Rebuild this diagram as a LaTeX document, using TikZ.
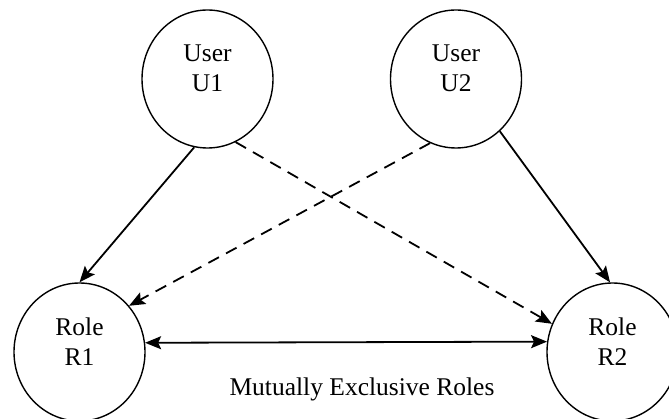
\documentclass[tikz,border=0pt]{standalone}
\usepackage{fontspec}
\setmainfont{Liberation Serif}
\usetikzlibrary{shapes.geometric,arrows.meta}
\begin{document}
\begin{tikzpicture}[x=1pt,y=-1pt,
  ent/.style={draw, ellipse, minimum width=131pt, minimum height=138pt, inner sep=0pt, line width=1.4pt},
  lbl/.style={align=center, font=\fontsize{25.5}{30}\selectfont, inner sep=0pt},
  conn/.style={line width=1.8pt, -{Stealth[length=16pt,width=13pt,inset=3pt]}},
  dconn/.style={conn, dash pattern=on 12pt off 8pt}]
\useasboundingbox (0,0) rectangle (669,419);
\fill[white] (0,0) rectangle (669,419);
\node[ent] (u1) at (207.5,79) {};
\node[ent] (u2) at (456,79) {};
\node[ent] (r1) at (79.5,352) {};
\node[ent] (r2) at (612.5,352) {};
\node[lbl] (u1t) at (207.5,68) {User\\U1};
\node[lbl] (u2t) at (456,68) {User\\U2};
\node[lbl] (r1t) at (79.5,342) {Role\\R1};
\node[lbl] (r2t) at (612.5,342) {Role\\R2};
\draw[conn] (u1.259.6) -- (r1.90);
\draw[dconn] (u1.294) -- (r2.155.4);
\draw[dconn] (u2.248.5) -- (r1.43);
\draw[conn] (u2.310) -- (r2.92);
\draw[line width=1.8pt, {Stealth[length=16pt,width=13pt,inset=3pt]}-{Stealth[length=16pt,width=13pt,inset=3pt]}] (r1.8.2) -- (r2.171.8);
\node[lbl, anchor=base] (mx) at (362,395) {Mutually Exclusive Roles};
\end{tikzpicture}
\end{document}
